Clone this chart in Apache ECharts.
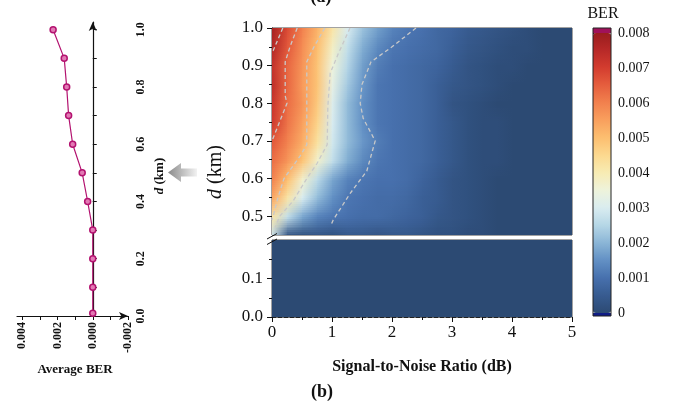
<!DOCTYPE html>
<html><head><meta charset="utf-8">
<script src="https://cdn.jsdelivr.net/npm/echarts@6/dist/echarts.min.js"></script>
<style>html,body{margin:0;padding:0;background:#fff}#c{width:674px;height:404px}</style>
</head><body><div id="c"></div>
<script>
// ---------- data: left panel (a) ----------
const dKm = [0.01, 0.1, 0.2, 0.3, 0.4, 0.5, 0.6, 0.7, 0.8, 0.9, 1.0];
const avgBer = [0, 0, 0, 0, 0.00029, 0.0006, 0.00114, 0.00137, 0.00148, 0.00162, 0.00225];
const berTickLabels = [-0.002, 0, 0.002, 0.004];
const berTicks = [-0.002, -0.001, 0, 0.001, 0.002, 0.003, 0.004];
const dTickLabels = [0, 0.2, 0.4, 0.6, 0.8, 1.0];
const dTicks = [0, 0.1, 0.2, 0.3, 0.4, 0.5, 0.6, 0.7, 0.8, 0.9, 1.0];

// ---------- data: right panel (b) ----------
const snr = [0, 0.25, 0.5, 0.75, 1, 1.25, 1.5, 1.75, 2, 2.25, 2.5, 2.75, 3, 3.25, 3.5, 3.75, 4, 4.25, 4.5, 4.75, 5];
const dUpper = [0.45, 0.5, 0.55, 0.6, 0.65, 0.7, 0.75, 0.8, 0.85, 0.9, 0.95, 1.0];
const berUpper = [
  [0.0028,0.0003,0.0002,0.0003,0.0002,0.0004,0.0004,0.0003,0.0004,0.0004,0.0003,0.0002,0.0002,0.0001,0.0001,0,0,0,0,0,0],
  [0.0042,0.0027,0.0018,0.0013,0.0011,0.0010,0.0009,0.0009,0.0008,0.0007,0.0006,0.0004,0.0003,0.0002,0.0001,0,0,0,0,0,0],
  [0.0054,0.0042,0.0030,0.0021,0.0015,0.0011,0.0010,0.0009,0.0009,0.0008,0.0006,0.0005,0.0003,0.0002,0.0001,0,0,0,0,0,0],
  [0.0060,0.0050,0.0037,0.0026,0.0018,0.0013,0.0011,0.0010,0.0010,0.0009,0.0007,0.0005,0.0003,0.0002,0.0001,0,0,0,0,0,0],
  [0.0063,0.0057,0.0049,0.0037,0.0027,0.0019,0.0014,0.0011,0.0010,0.0009,0.0008,0.0006,0.0004,0.0002,0.0001,0.0001,0,0,0,0,0],
  [0.0066,0.0060,0.0053,0.0043,0.0029,0.0021,0.0016,0.0012,0.0010,0.0009,0.0008,0.0006,0.0004,0.0002,0.0001,0.0001,0,0,0,0,0],
  [0.0071,0.0062,0.0055,0.0046,0.0030,0.0021,0.0015,0.0011,0.0010,0.0009,0.0008,0.0006,0.0004,0.0002,0.0001,0.0001,0,0,0,0,0],
  [0.0072,0.0063,0.0057,0.0048,0.0031,0.0021,0.0015,0.0011,0.0010,0.0009,0.0008,0.0006,0.0003,0.0002,0.0001,0,0,0,0,0,0],
  [0.0074,0.0064,0.0056,0.0049,0.0033,0.0023,0.0016,0.0011,0.0010,0.0009,0.0008,0.0006,0.0004,0.0003,0.0002,0.0001,0,0,0,0,0],
  [0.0073,0.0064,0.0057,0.0049,0.0035,0.0025,0.0017,0.0012,0.0010,0.0009,0.0008,0.0007,0.0005,0.0003,0.0002,0.0001,0.0001,0,0,0,0],
  [0.0076,0.0066,0.0058,0.0050,0.0038,0.0027,0.0019,0.0014,0.0011,0.0010,0.0009,0.0008,0.0006,0.0004,0.0003,0.0002,0.0001,0.0001,0,0,0],
  [0.0078,0.0068,0.0060,0.0052,0.0042,0.0030,0.0022,0.0017,0.0013,0.0011,0.0010,0.0008,0.0007,0.0005,0.0004,0.0003,0.0002,0.0001,0,0,0]
];
const snrLower = [0.5, 1.5, 2.5, 3.5, 4.5];
const dLower = [0.05, 0.15];
const berLower = [
  [0, 0, 0, 0, 0],
  [0, 0, 0, 0, 0]
];
// dashed contour lines: [snr, d]
const contour1 = [[0.18,1.0],[0.1,0.97],[0.02,0.94],[0,0.935]];
const contour2 = [[0.42,1.0],[0.3,0.95],[0.22,0.91],[0.22,0.82],[0.25,0.80],[0.15,0.76],[0.05,0.72],[0,0.70]];
const contour3 = [[0.88,1.0],[0.7,0.95],[0.58,0.91],[0.58,0.69],[0.47,0.66],[0.2,0.6],[0.1,0.55],[0.02,0.5],[0,0.49]];
const contour4 = [[1.3,1.0],[1.1,0.93],[0.97,0.88],[0.93,0.79],[0.92,0.69],[0.75,0.64],[0.58,0.6],[0.35,0.54],[0.13,0.5],[0.05,0.47]];
const contour5 = [[2.4,1.0],[2.0,0.95],[1.65,0.91],[1.5,0.85],[1.47,0.80],[1.52,0.76],[1.72,0.70],[1.58,0.62],[1.3,0.56],[1.02,0.49],[0.98,0.475]];
const upperLabels = [0.5, 0.6, 0.7, 0.8, 0.9, 1.0];
const upperMinor = [0.55, 0.65, 0.75, 0.85, 0.95];
const lowerLabels = [0, 0.1];
const lowerMinor = [0.05, 0.15];
const colorbarMin = 0, colorbarMax = 0.008;

const SERIF = "'Liberation Serif', 'Times New Roman', serif";
const INK = '#111';

function nodes(xs, ys, grid) {
  const out = [];
  for (let i = 0; i < ys.length; i++)
    for (let j = 0; j < xs.length; j++) out.push([xs[j], ys[i], grid[i][j]]);
  return out;
}
// shaded quads between neighbouring grid nodes; colours come from the visualMap
function shadedRenderer(nx, ny) {
  return function (params, api) {
    const idx = params.dataIndexInside;
    const i = Math.floor(idx / nx), j = idx % nx;
    if (i >= ny - 1 || j >= nx - 1) return null;
    const p0 = api.coord([api.value(0), api.value(1)]);
    const p1 = api.coord([api.value(0, idx + nx + 1), api.value(1, idx + nx + 1)]);
    const cBL = api.visual('color', idx), cBR = api.visual('color', idx + 1);
    const cTL = api.visual('color', idx + nx), cTR = api.visual('color', idx + nx + 1);
    const xL = Math.round(p0[0]), xR = Math.round(p1[0]);
    const strips = 10, h = (p0[1] - p1[1]) / strips, children = [];
    for (let k = 0; k < strips; k++) {
      const yBot = Math.round(p0[1] - k * h), yTop = Math.round(p0[1] - (k + 1) * h);
      if (yBot <= yTop) continue;
      const t = (k + 0.5) / strips;
      const l = echarts.color.lerp(t, [cBL, cTL]);
      const r = echarts.color.lerp(t, [cBR, cTR]);
      children.push({ type: 'rect',
        shape: { x: xL, y: yTop, width: xR - xL + 1, height: yBot - yTop + 1 },
        style: { fill: new echarts.graphic.LinearGradient(0, 0, 1, 0, [{ offset: 0, color: l }, { offset: 1, color: r }]) } });
    }
    return { type: 'group', children };
  };
}
function cellRenderer(dx, dy) {
  return function (params, api) {
    const x = api.value(0), y = api.value(1);
    const p1 = api.coord([x - dx / 2, y + dy / 2]);
    const p2 = api.coord([x + dx / 2, y - dy / 2]);
    const cs = params.coordSys;
    const r = echarts.graphic.clipRectByRect(
      { x: Math.round(p1[0]), y: Math.round(p1[1]), width: Math.round(p2[0] - p1[0]) + 1, height: Math.round(p2[1] - p1[1]) + 1 },
      { x: cs.x, y: cs.y, width: cs.width, height: cs.height });
    return r && { type: 'rect', shape: r, style: { fill: api.visual('color') } };
  };
}
function contourSeries(pts) {
  return { type: 'line', xAxisIndex: 1, yAxisIndex: 1, data: pts, symbol: 'none', silent: true, z: 5,
    lineStyle: { color: '#c9c9c9', width: 1.3, type: [4, 3] } };
}
const tickLabel = (size, bold) => ({ fontFamily: SERIF, fontSize: size, color: INK, fontWeight: bold ? 'bold' : 'normal' });

const chart = echarts.init(document.getElementById('c'), null, { renderer: 'canvas' });
chart.setOption({
  animation: false,
  backgroundColor: '#fff',
  grid: [
    { left: 17, right: 546, top: 22, bottom: 88 },
    { left: 272, right: 102, top: 28, bottom: 169, show: true, borderColor: '#444', borderWidth: 1 },
    { left: 272, right: 102, top: 240, bottom: 87, show: true, borderColor: '#444', borderWidth: 1 },
    { left: 593, width: 18, top: 33, height: 280 }
  ],
  xAxis: [
    { gridIndex: 0, type: 'value', inverse: true, min: -0.002, max: 0.0043,
      axisLine: { symbol: ['none', 'arrow'], symbolSize: [6, 9], lineStyle: { color: INK, width: 1.2 } },
      axisTick: { customValues: berTicks, length: 4, lineStyle: { color: INK } },
      axisLabel: Object.assign({ customValues: berTickLabels, rotate: 90, margin: 6, formatter: v => v.toFixed(3) }, tickLabel(12, true)),
      splitLine: { show: false } },
    { gridIndex: 1, type: 'value', min: 0, max: 5, show: false },
    { gridIndex: 2, type: 'value', min: 0, max: 5, interval: 1,
      axisLine: { lineStyle: { color: '#222', type: 'dashed' } },
      axisTick: { length: 5, lineStyle: { color: INK } },
      minorTick: { show: true, splitNumber: 2, length: 3, lineStyle: { color: INK } },
      axisLabel: Object.assign({ margin: 7 }, tickLabel(17, false)),
      splitLine: { show: false }, minorSplitLine: { show: false },
      name: 'Signal-to-Noise Ratio (dB)', nameLocation: 'middle', nameGap: 42,
      nameTextStyle: { fontFamily: SERIF, fontSize: 16, fontWeight: 'bold', color: INK } },
    { gridIndex: 3, type: 'value', show: false }
  ],
  yAxis: [
    { gridIndex: 0, type: 'value', position: 'right', min: 0, max: 1.027,
      axisLine: { symbol: ['none', 'arrow'], symbolSize: [6, 9], lineStyle: { color: INK, width: 1.2 } },
      axisTick: { customValues: dTicks, length: 4, lineStyle: { color: INK } },
      axisLabel: Object.assign({ customValues: dTickLabels, rotate: 90, margin: 7, formatter: v => v.toFixed(1) }, tickLabel(12, true)),
      splitLine: { show: false } },
    { gridIndex: 1, type: 'value', position: 'left', min: 0.45, max: 1.0,
      axisLine: { lineStyle: { color: '#222' } },
      axisTick: { customValues: upperLabels, length: 5, lineStyle: { color: INK } },
      axisLabel: Object.assign({ customValues: upperLabels, margin: 9, formatter: v => v.toFixed(1) }, tickLabel(17, false)),
      splitLine: { show: false } },
    { gridIndex: 2, type: 'value', position: 'left', min: 0, max: 0.2,
      axisLine: { lineStyle: { color: '#222', type: 'dashed' } },
      axisTick: { customValues: lowerLabels, length: 5, lineStyle: { color: INK } },
      axisLabel: Object.assign({ customValues: lowerLabels, margin: 9, formatter: v => v.toFixed(1) }, tickLabel(17, false)),
      splitLine: { show: false } },
    { gridIndex: 3, type: 'value', position: 'right', min: colorbarMin, max: colorbarMax, interval: 0.001,
      axisLine: { show: false },
      axisTick: { length: 4, lineStyle: { color: INK } },
      axisLabel: Object.assign({ margin: 7, formatter: v => (v === 0 ? '0' : v.toFixed(3)) }, tickLabel(14, false)),
      splitLine: { show: false } },
    { gridIndex: 1, type: 'value', position: 'left', offset: 0, min: 0.45, max: 1.0,
      axisLine: { show: false }, axisLabel: { show: false }, splitLine: { show: false },
      axisTick: { customValues: upperMinor, length: 3, lineStyle: { color: INK } } },
    { gridIndex: 2, type: 'value', position: 'left', offset: 0, min: 0, max: 0.2,
      axisLine: { show: false }, axisLabel: { show: false }, splitLine: { show: false },
      axisTick: { customValues: lowerMinor, length: 3, lineStyle: { color: INK } } }
  ],
  visualMap: {
    type: 'continuous', min: colorbarMin, max: colorbarMax, dimension: 2, seriesIndex: [1, 2],
    calculable: false, left: 593, top: 33, itemWidth: 18, itemHeight: 280, padding: 0,
    inRange: { color: ['#2c4a73', '#375b90', '#4770ad', '#6290c4', '#8ab5d6', '#b5d6e6', '#d9ecf0', '#eef3dc',
      '#f7ecb4', '#fcd990', '#fcbf70', '#f9a05e', '#f2814e', '#e65f3e', '#d43d2f', '#b82a28', '#9a1d1e'] }
  },
  series: [
    { type: 'line', xAxisIndex: 0, yAxisIndex: 0, data: dKm.map((d, i) => [avgBer[i], d]),
      symbol: 'circle', symbolSize: 6, lineStyle: { color: '#b3126f', width: 1.2 },
      itemStyle: { color: '#e27ab4', borderColor: '#b3126f', borderWidth: 1.5 } },
    { type: 'custom', xAxisIndex: 1, yAxisIndex: 1, renderItem: shadedRenderer(snr.length, dUpper.length),
      data: nodes(snr, dUpper, berUpper), encode: { x: 0, y: 1 }, silent: true, z: 2, clip: true },
    { type: 'custom', xAxisIndex: 2, yAxisIndex: 2, renderItem: cellRenderer(1, 0.1),
      data: nodes(snrLower, dLower, berLower), encode: { x: 0, y: 1 }, silent: true, z: 2, clip: true },
    contourSeries(contour1), contourSeries(contour2), contourSeries(contour3),
    contourSeries(contour4), contourSeries(contour5)
  ],
  graphic: [
    { type: 'text', x: 321, y: 6, style: { text: '(a)', font: 'bold 18px ' + SERIF, fill: INK, textAlign: 'center', textVerticalAlign: 'bottom' } },
    { type: 'text', x: 322, y: 392, style: { text: '(b)', font: 'bold 18px ' + SERIF, fill: INK, textAlign: 'center', textVerticalAlign: 'middle' } },
    { type: 'text', x: 75, y: 370, style: { text: 'Average BER', font: 'bold 13px ' + SERIF, fill: INK, textAlign: 'center', textVerticalAlign: 'middle' } },
    { type: 'text', x: 160, y: 176, rotation: Math.PI / 2,
      style: { text: '{i|d} (km)', font: 'bold 13px ' + SERIF, fill: INK, textAlign: 'center', textVerticalAlign: 'middle',
        rich: { i: { fontStyle: 'italic', fontWeight: 'bold', fontSize: 13, fontFamily: SERIF } } } },
    { type: 'text', x: 216, y: 172, rotation: Math.PI / 2,
      style: { text: '{i|d} (km)', font: '20px ' + SERIF, fill: INK, textAlign: 'center', textVerticalAlign: 'middle',
        rich: { i: { fontStyle: 'italic', fontSize: 20, fontFamily: SERIF } } } },
    { type: 'text', x: 603, y: 14, style: { text: 'BER', font: '16px ' + SERIF, fill: INK, textAlign: 'center', textVerticalAlign: 'middle' } },
    { type: 'polygon', shape: { points: [[168, 172.5], [181, 163], [181, 168.5], [197, 168.5], [197, 176.5], [181, 176.5], [181, 182]] },
      style: { fill: new echarts.graphic.LinearGradient(0, 0, 1, 0, [{ offset: 0, color: '#8a8a8a' }, { offset: 1, color: '#f2f2f2' }]) } },
    { type: 'line', shape: { x1: 267, y1: 239, x2: 277, y2: 233.5 }, style: { stroke: INK, lineWidth: 1 }, z: 10 },
    { type: 'line', shape: { x1: 267, y1: 244.5, x2: 277, y2: 239 }, style: { stroke: INK, lineWidth: 1 }, z: 10 },
    { type: 'rect', shape: { x: 593, y: 28, width: 18, height: 5 }, style: { fill: '#a0125a' }, z: 10 },
    { type: 'rect', shape: { x: 593, y: 313, width: 18, height: 3 }, style: { fill: '#101c86' }, z: 10 },
    { type: 'rect', shape: { x: 593, y: 28, width: 18, height: 288 }, style: { fill: 'none', stroke: '#222', lineWidth: 1 }, z: 11 }
  ]
});
</script></body></html>
